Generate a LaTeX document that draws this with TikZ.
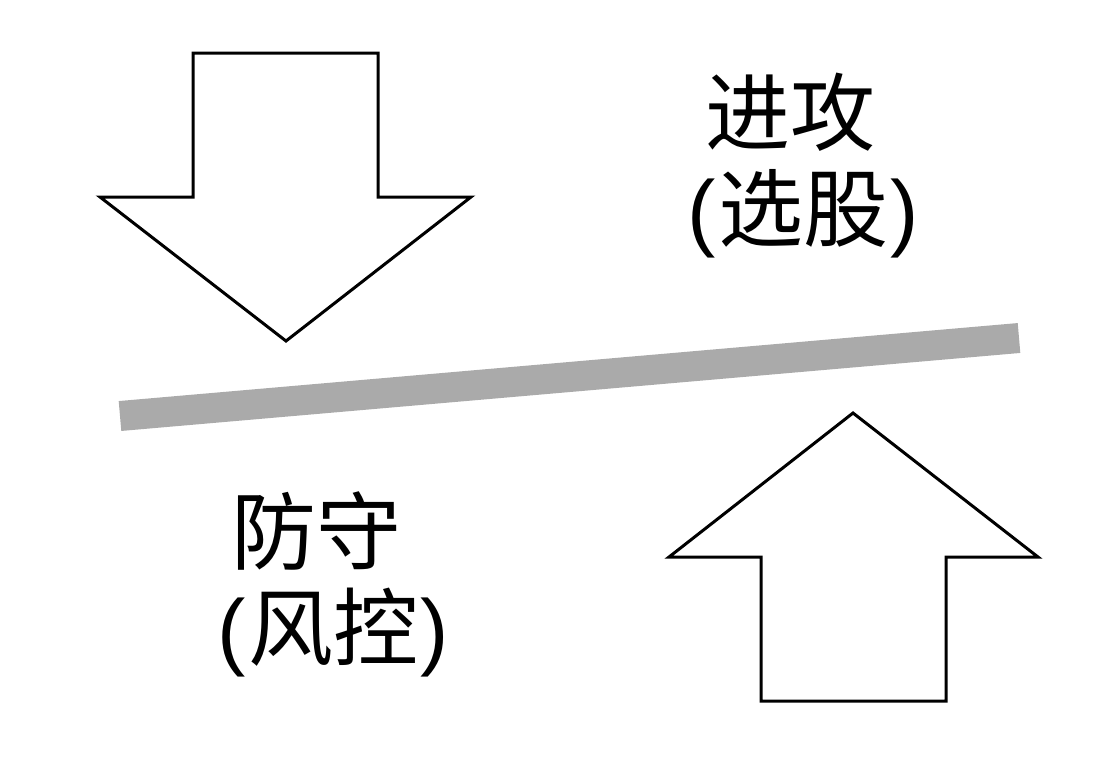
\documentclass[tikz,border=0pt]{standalone}
\usepackage{fontspec}
\newfontfamily\cjk{Noto Sans CJK SC}
\newfontfamily\lat{Liberation Sans}
\newcommand{\lp}{{\lat(}\hspace{2pt}}
\newcommand{\rp}{\hspace{2pt}{\lat)}}
\definecolor{bargray}{HTML}{AAAAAA}
\begin{document}
\begin{tikzpicture}[x=1pt,y=-1pt,
  arrowshape/.style={draw=black,line width=3pt,fill=white,line join=miter},
  lbl/.style={font=\cjk\fontsize{85}{100}\selectfont,inner sep=0pt,anchor=center}]
\useasboundingbox (0,0) rectangle (1116,758);
% down arrow
\draw[arrowshape] (193,53) -- (378,53) -- (378,197) -- (471,197) -- (286,341) -- (100,197) -- (193,197) -- cycle;
% up arrow
\draw[arrowshape] (853,413) -- (1038,557) -- (946,557) -- (946,701) -- (761,701) -- (761,557) -- (669,557) -- cycle;
% bar
\coordinate (bl) at (120,416);
\coordinate (br) at (1019,338);
\draw[bargray,line width=30pt] (bl) -- (br);
% labels
\node[lbl] (t1) at (790,112) {进攻};
\node[lbl] (t2) at (803,214) {\lp 选股\rp};
\node[lbl] (d1) at (316,531) {防守};
\node[lbl] (d2) at (333,633) {\lp 风控\rp};
\end{tikzpicture}
\end{document}
